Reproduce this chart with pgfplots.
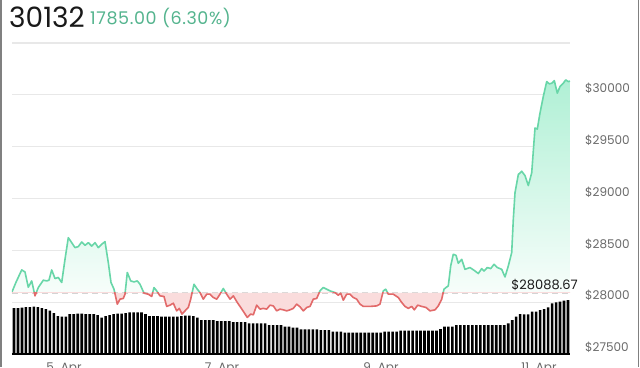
\documentclass[border=0pt]{standalone}
\usepackage{pgfplots}
\pgfplotsset{compat=1.18}
\usepackage{pgfplotstable}
\usepackage{fontspec}
\setmainfont{Poppins}
\definecolor{upgreen}{RGB}{104,214,168}
\definecolor{dnred}{RGB}{226,106,106}
\definecolor{redfill}{RGB}{250,220,220}
\definecolor{greenfill}{RGB}{176,240,213}
\definecolor{greenmid}{RGB}{242,252,248}
\definecolor{gridgray}{RGB}{232,232,232}
\definecolor{refgray}{RGB}{212,212,212}
\definecolor{labelgray}{RGB}{105,105,105}
\definecolor{titlegreen}{RGB}{84,180,142}
\definecolor{titleblack}{RGB}{25,25,25}

\pgfplotstableread{
x y
12 28099
16 28192
21.7 28311
25 28291
28.3 28144
31.7 28205
35 28061
38.3 28141
43.3 28212
46.7 28205
49 28212
51.7 28311
55 28228
58.3 28238
61.7 28190
65 28413
68.3 28622
71.7 28574
75 28526
78.3 28536
81.7 28580
85 28548
88.3 28574
91.7 28541
95 28574
98.3 28526
101.7 28558
105 28584
108.3 28382
111 28190
114 28125
117.3 27981
120 28029
123.3 28036
125 28077
127.3 28286
130.7 28205
134 28195
137.3 28205
140 28173
144 28087
148.3 28077
151.7 28055
154 28141
156.7 28109
160 28061
164 28055
166.7 27959
170 27971
173.3 27990
176.7 27916
179.3 27940
182 27885
185 27916
188.3 27949
190.7 28029
194 28173
197.3 28125
200 28093
203.3 28029
206.7 28077
210 28077
213.3 28045
216.7 28029
220 28077
223.3 28132
226.7 28077
230 28029
233.3 28061
237.3 27997
240.7 27949
244 27901
247.3 27853
250.7 27885
253.3 27878
256.7 27971
260 27933
263.3 27940
266.7 27933
270 27971
273.3 27964
276.7 27916
280 27933
283.3 27926
286.7 27916
290 27926
293.3 27940
296.7 27981
300 27955
303.3 27916
306.7 27949
310 27959
313.3 28029
316.7 28036
320 28109
323.3 28141
326.7 28125
330 28109
335 28093
338.3 28067
340.7 28087
343.3 28019
346.7 28077
350 28077
353.3 28045
356.7 28029
360 27981
363.3 27959
370 27959
376.7 27964
380 27981
383.3 28109
385.7 28125
388.3 28077
393.3 28077
398.3 28045
401.7 27997
405 27959
408.3 27940
411.7 27959
414.3 27926
417.7 27971
421.7 27959
426 27949
430 27916
435 27926
438.3 27964
441.7 28029
444 28125
446 28141
448.3 28157
450.7 28349
453.3 28462
456 28452
458.3 28375
461.7 28413
465 28317
470 28334
475 28301
478.3 28276
481.7 28324
484 28301
487.3 28334
490.7 28324
494 28365
497.3 28334
501.7 28317
505 28243
508.3 28349
511.7 28478
513.3 28798
515 29055
518.3 29231
521.7 29263
525 29221
528.3 29125
531.7 29247
535 29680
537.3 29670
540 29824
543.3 29984
546.7 30128
549.3 30106
551.7 30112
554.3 30137
557.3 30016
560 30080
563.3 30112
565.7 30144
568.3 30128
570 30132
}\pricedata

\pgfplotstableread{
i h
0 46
1 46
2 46.5
3 47
4 47
5 47.3
6 47
7 46
8 45
9 43.3
10 41
11 38
12 37.3
13 37.3
14 40
15 40
16 40.5
17 40.5
18 40
19 40
20 40
21 39
22 36.3
23 38
24 39
25 40
26 40.5
27 40.5
28 41
29 41.7
30 41.7
31 41.7
32 41.7
33 40
34 38
35 38
36 38
37 37.3
38 37.3
39 37.3
40 37.3
41 37.3
42 38
43 38.5
44 38.5
45 38
46 36.3
47 34
48 34
49 34
50 34
51 33
52 33
53 33
54 33
55 32
56 32
57 32
58 32
59 30.7
60 30.7
61 30.7
62 30.7
63 30.7
64 29
65 29
66 29
67 29
68 27.3
69 27.3
70 26.3
71 26.3
72 24.7
73 24.7
74 24.7
75 24.7
76 24.7
77 24
78 24
79 24
80 22.3
81 22.3
82 22.3
83 21.3
84 21.3
85 21.3
86 21.3
87 21.3
88 21.3
89 21.3
90 21.3
91 21.3
92 21.3
93 22.3
94 22.3
95 22.3
96 22.3
97 23.3
98 23.3
99 23.3
100 23.3
101 23.3
102 23.3
103 23.3
104 23.3
105 23.3
106 23.3
107 25
108 27.3
109 27.3
110 27.3
111 29
112 29
113 29
114 29
115 29
116 29
117 29
118 29
119 29
120 29
121 29
122 29
123 29
124 30.7
125 34
126 37.3
127 40
128 39.7
129 39.7
130 42.3
131 42.3
132 44
133 45
134 46.7
135 50.7
136 51.7
137 52.3
138 53.3
139 54
}\voldata

\begin{document}
\begin{tikzpicture}[x=1pt,y=1pt]
\useasboundingbox (0,0) rectangle (640,367);
\clip (0,0) rectangle (640,367);
\fill[white] (0,0) rectangle (640,367);

% price grid axis
\begin{axis}[at={(12pt,13pt)}, anchor=south west, scale only axis,
  width=558pt, height=311pt, xmin=12, xmax=570, ymin=27500, ymax=30500,
  axis line style={draw=none}, major tick length=0pt,
  scaled y ticks=false, scaled x ticks=false,
  ytick={27500,28000,28500,29000,29500,30000,30500},
  yticklabels={\$27500,\$28000,\$28500,\$29000,\$29500,\$30000,{}},
  yticklabel pos=right,
  yticklabel style={anchor=west, inner sep=0pt, xshift=15pt, yshift=6.5pt,
    font=\fontsize{12}{12}\selectfont, text=labelgray},
  ymajorgrids, grid style={gridgray, line width=1.2pt},
  xtick={64,222,381,539},
  xticklabels={5. Apr,7. Apr,9. Apr,11. Apr},
  xticklabel style={anchor=north, inner sep=0pt, yshift=-8.5pt,
    font=\fontsize{12}{12}\selectfont, text=labelgray},
  clip=false]
\addplot[refgray, line width=1.2pt, dash pattern=on 6pt off 4pt] coordinates {(12,28088.67) (570,28088.67)};
\end{axis}

% volume bars
\begin{axis}[at={(12pt,13pt)}, anchor=south west, scale only axis,
  width=558pt, height=311pt, xmin=-0.5, xmax=139.5, ymin=0, ymax=311,
  hide axis, clip=false]
\addplot[ybar, bar width=2.6pt, bar shift=0pt, fill=black, draw=none] table[x=i,y=h] {\voldata};
\addplot[black, line width=2pt] coordinates {(-0.5,0) (139.5,0)};
\end{axis}

% green (above reference)
\begin{axis}[at={(12pt,74.025pt)}, anchor=south west, scale only axis,
  width=558pt, height=249.975pt, xmin=12, xmax=570, ymin=28088.67, ymax=30500,
  hide axis]
\addplot[top color=greenfill, middle color=greenmid, bottom color=white, draw=none] table {\pricedata}
  -- (axis cs:570,28088.67) -- (axis cs:12,28088.67) -- cycle;
\addplot[upgreen, line width=1.6pt, line join=round] table {\pricedata};
\end{axis}

% red (below reference)
\begin{axis}[at={(12pt,13pt)}, anchor=south west, scale only axis,
  width=558pt, height=61.025pt, xmin=12, xmax=570, ymin=27500, ymax=28088.67,
  hide axis]
\addplot[fill=redfill, draw=none] table {\pricedata}
  -- (axis cs:570,28088.67) -- (axis cs:12,28088.67) -- cycle;
\addplot[dnred, line width=1.6pt, line join=round] table {\pricedata};
\end{axis}

\node[anchor=base east, inner sep=0pt, font=\fontsize{13}{13}\selectfont, text=titleblack] at (578,77.5) {\$28088.67};

\node[anchor=base west, inner sep=0pt, font=\fontsize{28}{28}\selectfont, text=titleblack] at (9,339.3) {30132};
\node[anchor=base west, inner sep=0pt, font=\fontsize{17.5}{17.5}\selectfont\addfontfeatures{LetterSpace=3.5}, text=titlegreen] at (90,342) {1785.00 (6.30\%)};

\draw[gray, line width=2pt] (1,0) -- (1,367);
\draw[gray, line width=1.5pt] (638.5,0) -- (638.5,367);
\end{tikzpicture}
\end{document}
